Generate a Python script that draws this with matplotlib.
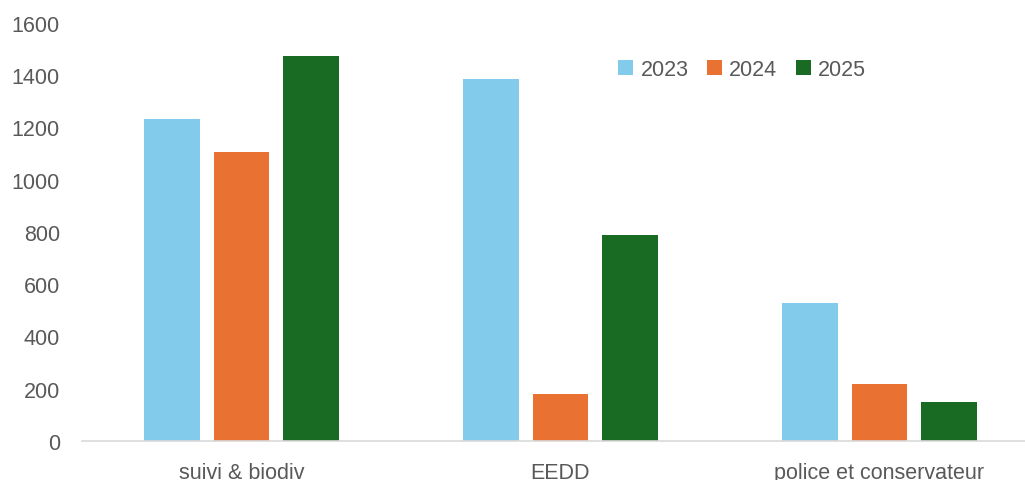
import numpy as np
import matplotlib.pyplot as plt

plt.rcParams['font.family'] = ['Liberation Sans', 'DejaVu Sans']

categories = ['suivi & biodiv', 'EEDD', 'police et conservateur']
years = ['2023', '2024', '2025']
v2023 = [1232, 1385, 527]
v2024 = [1105, 181, 220]
v2025 = [1475, 790, 151]
colors = ['#83CBEB', '#E97132', '#196B24']

fig = plt.figure(figsize=(10.25, 4.81), dpi=100)
ax = fig.add_axes([82 / 1025, 39 / 481, 957 / 1025, 418 / 481])

x = np.arange(len(categories))
w = 0.1755
step = 0.219
for i, (vals, lab, c) in enumerate(zip([v2023, v2024, v2025], years, colors)):
    ax.bar(x + (i - 1) * step, vals, width=w, color=c, label=lab)

ax.set_xlim(-0.5, 2.5)
ax.set_ylim(0, 1600)
ax.set_yticks(range(0, 1601, 200))
ax.set_xticks(x)
ax.set_xticklabels(categories)
for s in ['top', 'right', 'left']:
    ax.spines[s].set_visible(False)
ax.spines['bottom'].set_color('#D9D9D9')
ax.spines['bottom'].set_linewidth(1.2)
ax.tick_params(axis='both', length=0, labelsize=15.5, labelcolor='#595959')
ax.tick_params(axis='y', pad=16)
ax.tick_params(axis='x', pad=15)

fig.legend(loc='center', bbox_to_anchor=(0.724, 0.854), ncol=3, frameon=False,
           fontsize=15.5, labelcolor='#595959', handlelength=0.7, handleheight=0.7,
           handletextpad=0.35, columnspacing=0.85)

fig.savefig('out.png', dpi=100)
